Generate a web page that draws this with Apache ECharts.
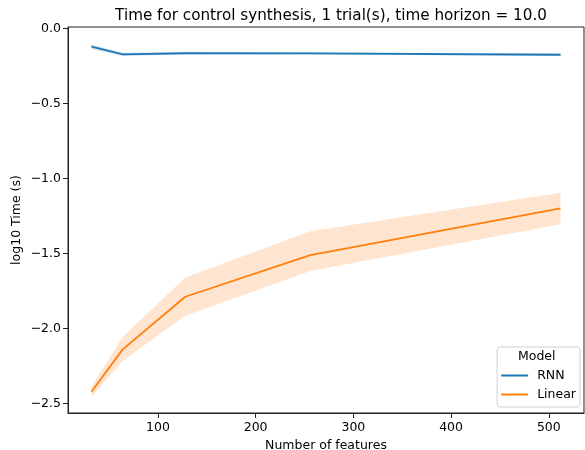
<!DOCTYPE html>
<html>
<head>
<meta charset="utf-8">
<script src="https://cdn.jsdelivr.net/npm/echarts@6/dist/echarts.min.js"></script>
<style>
  html, body { margin: 0; padding: 0; background: #fff; }
  #chart { width: 585px; height: 450px; }
</style>
</head>
<body>
<div id="chart"></div>
<script>
const features = [32, 64, 128, 256, 512]

const rnnMean = [-0.121, -0.172, -0.165, -0.166, -0.175]
const rnnLow = [-0.137, -0.183, -0.173, -0.173, -0.184]
const rnnHigh = [-0.106, -0.161, -0.157, -0.158, -0.166]

const linMean = [-2.421, -2.139, -1.788, -1.51, -1.199]
const linLow = [-2.455, -2.217, -1.915, -1.617, -1.305]
const linHigh = [-2.388, -2.055, -1.659, -1.352, -1.095]

const xTicks = [100, 200, 300, 400, 500]
const yTicks = [0, -0.5, -1, -1.5, -2, -2.5]

const BLUE = '#1f77b4'
const ORANGE = '#ff7f0e'
const FONT = 'DejaVu Sans'

const pairs = (ys) => features.map((x, i) => [x, ys[i]])

// confidence band drawn as one polygon (upper edge, then lower edge back)
const band = (name, lo, hi, color) => ({
  name: name,
  type: 'custom',
  silent: true,
  data: features.map((x, i) => [x, lo[i], hi[i]]),
  encode: { x: 0, y: [1, 2] },
  renderItem: (params, api) => {
    if (params.dataIndex !== 0) return null
    const top = features.map((x, i) => api.coord([x, hi[i]]))
    const bottom = features.map((x, i) => api.coord([x, lo[i]])).reverse()
    return {
      type: 'polygon',
      shape: { points: top.concat(bottom) },
      style: { fill: color, stroke: null }
    }
  }
})

const fmt = (v) => {
  const s = Math.abs(v).toFixed(1)
  return v < 0 ? '\u2212' + s : s
}

const myChart = echarts.init(document.getElementById('chart'))
const option = {
  animation: false,
  textStyle: { fontFamily: FONT },
  title: {
    text: 'Time for control synthesis, 1 trial(s), time horizon = 10.0',
    left: 326,
    textAlign: 'center',
    top: 4,
    textStyle: { fontFamily: FONT, fontSize: 15.2, fontWeight: 'normal', color: '#000' }
  },
  grid: {
    left: 68,
    right: 1,
    top: 27,
    bottom: 37,
    outerBoundsMode: 'none',
    containLabel: false,
    show: true,
    borderColor: '#222',
    borderWidth: 1
  },
  legend: {
    data: [
      { name: 'RNN', itemStyle: { color: BLUE } },
      { name: 'Linear', itemStyle: { color: ORANGE } }
    ],
    orient: 'vertical',
    right: 5,
    top: 347,
    padding: [22, 4, 6, 4],
    itemGap: 6,
    itemWidth: 27,
    itemHeight: 2,
    icon: 'rect',
    borderColor: '#d0d0d0',
    borderWidth: 1,
    borderRadius: 3,
    backgroundColor: 'rgba(255,255,255,0.8)',
    textStyle: { fontFamily: FONT, fontSize: 12.5, color: '#000', padding: [0, 0, 0, 4], lineHeight: 13 }
  },
  graphic: [
    {
      type: 'text',
      left: 518,
      top: 350,
      z: 100,
      style: { text: 'Model', fontFamily: FONT, fontSize: 12.5, fill: '#000' }
    }
  ],
  xAxis: {
    type: 'value',
    min: 8,
    max: 536,
    name: 'Number of features',
    nameLocation: 'middle',
    nameGap: 25,
    nameTextStyle: { fontFamily: FONT, fontSize: 12.5, color: '#000' },
    axisLine: { show: true, onZero: false, lineStyle: { color: '#222' } },
    axisTick: { show: true, length: 5, customValues: xTicks, lineStyle: { color: '#222' } },
    axisLabel: { customValues: xTicks, fontFamily: FONT, fontSize: 12.5, color: '#000', margin: 8 },
    splitLine: { show: false }
  },
  yAxis: {
    type: 'value',
    min: -2.563,
    max: 0.01,
    name: 'log10 Time (s)',
    nameLocation: 'middle',
    nameGap: 45,
    nameMoveOverlap: false,
    nameTextStyle: { fontFamily: FONT, fontSize: 12.5, color: '#000' },
    axisLine: { show: true, onZero: false, lineStyle: { color: '#222' } },
    axisTick: { show: true, length: 5, customValues: yTicks, lineStyle: { color: '#222' } },
    axisLabel: { customValues: yTicks, formatter: fmt, fontFamily: FONT, fontSize: 12.5, color: '#000', margin: 7 },
    splitLine: { show: false }
  },
  series: [
    band('rnnBand', rnnLow, rnnHigh, 'rgba(31,119,180,0.2)'),
    {
      name: 'RNN',
      type: 'line',
      data: pairs(rnnMean),
      showSymbol: false,
      color: BLUE,
      lineStyle: { color: BLUE, width: 1.8 }
    },
    band('linBand', linLow, linHigh, 'rgba(255,127,14,0.2)'),
    {
      name: 'Linear',
      type: 'line',
      data: pairs(linMean),
      showSymbol: false,
      color: ORANGE,
      lineStyle: { color: ORANGE, width: 1.8 }
    }
  ]
}
myChart.setOption(option)
</script>
</body>
</html>
